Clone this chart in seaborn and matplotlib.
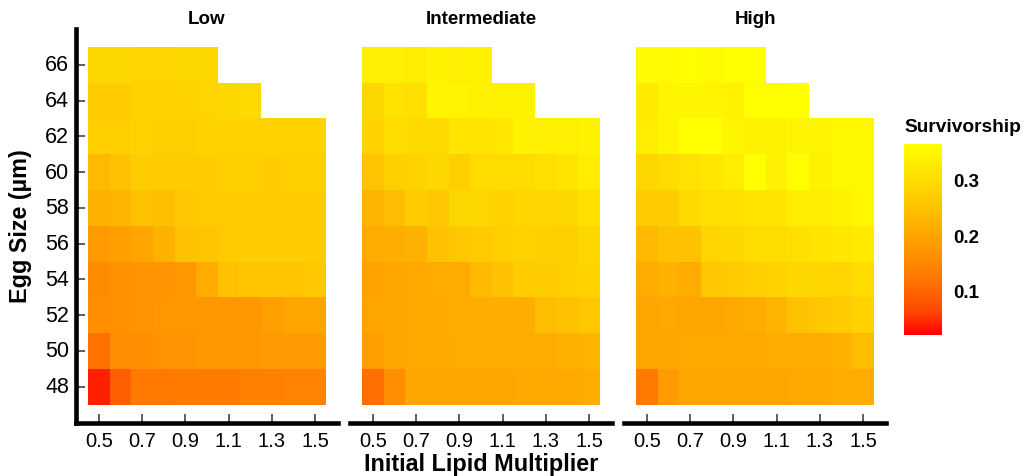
import numpy as np
import pandas as pd
import matplotlib
matplotlib.use('Agg')
import matplotlib.pyplot as plt
from matplotlib.colors import LinearSegmentedColormap
import seaborn as sns

sns.set_style('white')
plt.rcParams['font.family'] = ['Liberation Sans', 'DejaVu Sans']
plt.rcParams['text.color'] = 'black'

# data
multipliers = [0.5, 0.6, 0.7, 0.8, 0.9, 1.0, 1.1, 1.2, 1.3, 1.4, 1.5]
egg_sizes = [48, 50, 52, 54, 56, 58, 60, 62, 64, 66]
x_ticks = [0.5, 0.7, 0.9, 1.1, 1.3, 1.5]
y_ticks = [48, 50, 52, 54, 56, 58, 60, 62, 64, 66]
levels = ['Low', 'Intermediate', 'High']
n = np.nan

# rows go from egg size 48 up to 66
low = [
    [0.04, 0.09, 0.125, 0.125, 0.13, 0.13, 0.13, 0.135, 0.135, 0.14, 0.14],
    [0.115, 0.16, 0.16, 0.17, 0.17, 0.175, 0.175, 0.175, 0.18, 0.18, 0.18],
    [0.16, 0.165, 0.17, 0.175, 0.175, 0.175, 0.175, 0.175, 0.19, 0.2, 0.2],
    [0.155, 0.165, 0.17, 0.17, 0.175, 0.21, 0.25, 0.255, 0.255, 0.255, 0.26],
    [0.18, 0.19, 0.2, 0.22, 0.25, 0.255, 0.265, 0.27, 0.27, 0.27, 0.27],
    [0.22, 0.225, 0.25, 0.245, 0.26, 0.265, 0.27, 0.27, 0.27, 0.27, 0.27],
    [0.235, 0.25, 0.27, 0.27, 0.27, 0.27, 0.275, 0.275, 0.27, 0.275, 0.275],
    [0.275, 0.275, 0.28, 0.275, 0.275, 0.28, 0.28, 0.28, 0.28, 0.28, 0.28],
    [0.27, 0.27, 0.28, 0.28, 0.28, 0.285, 0.29, 0.295, n, n, n],
    [0.29, 0.29, 0.285, 0.285, 0.29, 0.29, n, n, n, n, n],
]
intermediate = [
    [0.11, 0.16, 0.2, 0.2, 0.2, 0.2, 0.2, 0.205, 0.205, 0.205, 0.21],
    [0.19, 0.2, 0.205, 0.205, 0.21, 0.21, 0.21, 0.21, 0.215, 0.22, 0.225],
    [0.2, 0.2, 0.205, 0.205, 0.215, 0.215, 0.215, 0.215, 0.24, 0.25, 0.26],
    [0.195, 0.2, 0.205, 0.21, 0.21, 0.235, 0.25, 0.27, 0.27, 0.275, 0.28],
    [0.21, 0.215, 0.22, 0.25, 0.26, 0.265, 0.275, 0.28, 0.275, 0.275, 0.29],
    [0.225, 0.24, 0.27, 0.26, 0.29, 0.29, 0.28, 0.29, 0.285, 0.29, 0.305],
    [0.255, 0.275, 0.28, 0.29, 0.275, 0.3, 0.3, 0.3, 0.305, 0.315, 0.33],
    [0.28, 0.3, 0.295, 0.295, 0.315, 0.315, 0.32, 0.34, 0.335, 0.335, 0.34],
    [0.29, 0.31, 0.305, 0.345, 0.345, 0.335, 0.34, 0.34, n, n, n],
    [0.335, 0.335, 0.33, 0.34, 0.335, 0.34, n, n, n, n, n],
]
high = [
    [0.13, 0.18, 0.2, 0.2, 0.2, 0.2, 0.2, 0.205, 0.205, 0.21, 0.21],
    [0.2, 0.2, 0.205, 0.205, 0.205, 0.205, 0.21, 0.21, 0.21, 0.22, 0.24],
    [0.2, 0.205, 0.2, 0.2, 0.205, 0.215, 0.225, 0.25, 0.26, 0.27, 0.28],
    [0.21, 0.22, 0.21, 0.26, 0.265, 0.275, 0.28, 0.29, 0.29, 0.285, 0.3],
    [0.235, 0.25, 0.25, 0.285, 0.29, 0.3, 0.3, 0.305, 0.315, 0.32, 0.325],
    [0.27, 0.27, 0.295, 0.305, 0.305, 0.315, 0.315, 0.33, 0.33, 0.34, 0.35],
    [0.29, 0.3, 0.31, 0.32, 0.33, 0.36, 0.335, 0.36, 0.34, 0.35, 0.35],
    [0.33, 0.345, 0.36, 0.36, 0.345, 0.34, 0.34, 0.345, 0.345, 0.35, 0.35],
    [0.325, 0.345, 0.345, 0.345, 0.34, 0.36, 0.36, 0.365, n, n, n],
    [0.355, 0.355, 0.36, 0.355, 0.365, 0.365, n, n, n, n, n],
]
panels = [low, intermediate, high]

vmin, vmax = 0.02, 0.365

# red -> yellow, interpolated in Lab like ggplot's gradient
cmap = LinearSegmentedColormap.from_list('redyellow', [
    (0.0, (1, 0, 0)), (0.125, (1, 73/255, 0)), (0.25, (1, 108/255, 0)),
    (0.375, (1, 136/255, 0)), (0.5, (1, 161/255, 0)), (0.625, (1, 186/255, 0)),
    (0.75, (1, 209/255, 0)), (0.875, (1, 232/255, 0)), (1.0, (1, 1, 0))])

W, H = 1024, 477
fig = plt.figure(figsize=(W / 100, H / 100), dpi=100)

lefts = [76, 350, 624]
pw = 262
top, bottom = 30, 423.5
cax = fig.add_axes([904 / W, 1 - 336 / H, 38 / W, 191 / H])

for i, (name, vals) in enumerate(zip(levels, panels)):
    ax = fig.add_axes([lefts[i] / W, 1 - bottom / H, pw / W, (bottom - top) / H])
    df = pd.DataFrame(vals, index=egg_sizes, columns=multipliers).iloc[::-1]
    sns.heatmap(df, ax=ax, cmap=cmap, vmin=vmin, vmax=vmax,
                cbar=(i == 0), cbar_ax=cax if i == 0 else None)
    ax.set_xlim(-0.55, 11.55)
    ax.set_ylim(10.5, -0.5)
    ax.set_xlabel('')
    ax.set_ylabel('')
    ax.set_xticks([multipliers.index(v) + 0.5 for v in x_ticks])
    ax.set_xticklabels([f'{v:.1f}' for v in x_ticks], rotation=0, fontsize=14.5)
    for s in ax.spines.values():
        s.set_visible(False)
    ax.spines['bottom'].set_visible(True)
    ax.spines['bottom'].set_linewidth(3.3)
    ax.spines['bottom'].set_color('black')
    ax.tick_params(axis='x', direction='in', length=6.5, width=1.1,
                   color='#333333', pad=6, labelcolor='black', bottom=True)
    if i == 0:
        ax.set_yticks([len(egg_sizes) - 1 - egg_sizes.index(v) + 0.5 for v in y_ticks])
        ax.set_yticklabels([str(v) for v in y_ticks], rotation=0, fontsize=15.5)
        ax.spines['left'].set_visible(True)
        ax.spines['left'].set_linewidth(3.3)
        ax.spines['left'].set_color('black')
        ax.tick_params(axis='y', direction='in', length=6.5, width=1.1,
                       color='#333333', pad=5, labelcolor='black', left=True)
    else:
        ax.set_yticks([])
    fig.text((lefts[i] + pw / 2) / W, 1 - 19 / H, name, ha='center', va='center',
             fontsize=13.5, fontweight='bold', color='black')

# colour bar styling
cax.set_frame_on(False)
for s in cax.spines.values():
    s.set_visible(False)
cax.set_yticks([0.1, 0.2, 0.3])
cax.set_yticklabels(['0.1', '0.2', '0.3'], fontsize=13.5, fontweight='bold')
cax.tick_params(axis='y', direction='in', length=7.5, width=1, color='white',
                left=True, right=True, labelleft=False, labelright=True, pad=8,
                labelcolor='black')
fig.text(904 / W, 1 - 127 / H, 'Survivorship', ha='left', va='center',
         fontsize=13.8, fontweight='bold', color='black')

fig.text(481 / W, 1 - 465 / H, 'Initial Lipid Multiplier', ha='center', va='center',
         fontsize=16.8, fontweight='bold', color='black')
fig.text(21 / W, 1 - 226 / H, 'Egg Size (µm)', ha='center', va='center',
         rotation=90, fontsize=16.8, fontweight='bold', color='black')

fig.savefig('out.png', dpi=100)
